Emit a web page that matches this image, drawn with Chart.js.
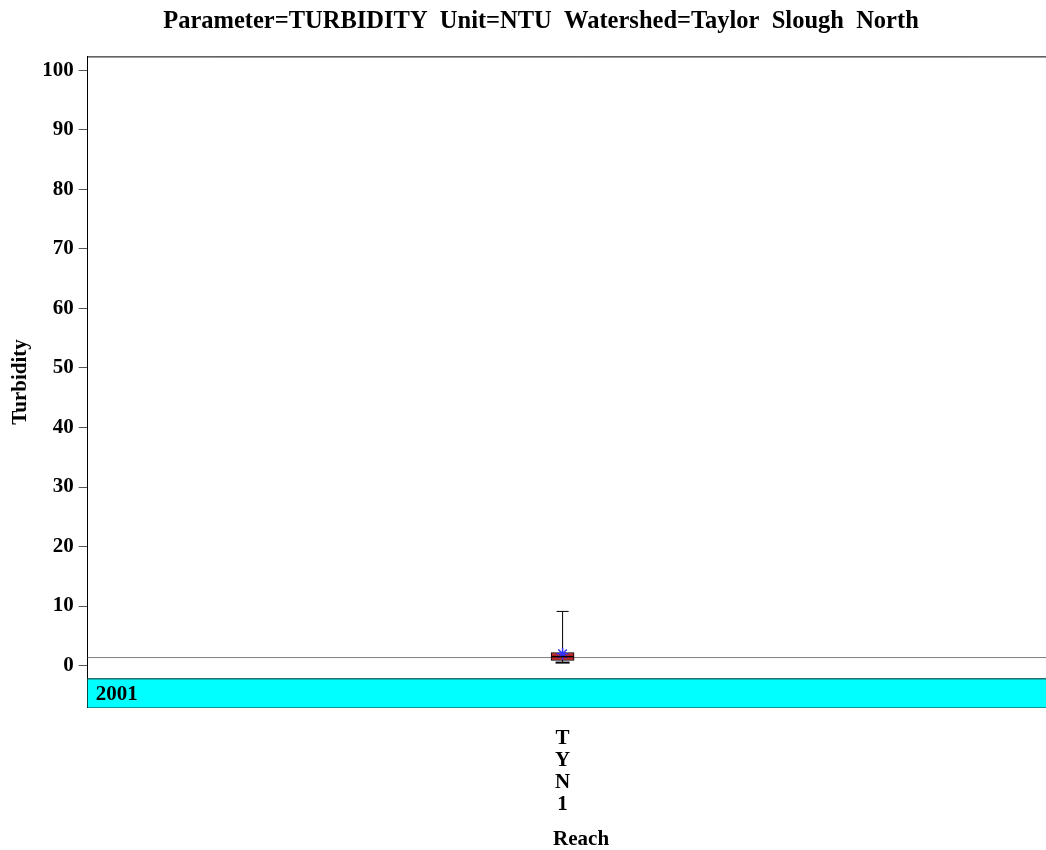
<!DOCTYPE html>
<html>
<head>
<meta charset="utf-8">
<script src="https://cdn.jsdelivr.net/npm/chart.js@4/dist/chart.umd.min.js"></script>
<style>
  html, body { margin: 0; padding: 0; background: #fff; overflow: hidden; }
  body { width: 1046px; height: 850px; }
  #wrap { width: 1082px; height: 850px; }
</style>
</head>
<body>
<div id="wrap"><canvas id="chart"></canvas></div>
<script>
// data
const reaches = ['TYN1'];
const whiskerLow = [0.5];
const q1 = [0.85];
const median = [1.5];
const q3 = [2.2];
const whiskerHigh = [9.1];
const means = [2.0];
const refLine = 1.35;
const yTicks = [0, 10, 20, 30, 40, 50, 60, 70, 80, 90, 100];
const yearBand = { label: '2001', top: -2.2 };

const FONT = "'Liberation Serif', 'DejaVu Serif', serif";

// whiskers, caps, median, year band and reference line, all placed by the scales
const boxExtras = {
    id: 'boxExtras',
    beforeDatasetsDraw(chart) {
        const {ctx, chartArea, scales: {x, y}} = chart;
        const yTop = y.getPixelForValue(yearBand.top);
        ctx.save();
        ctx.fillStyle = '#00ffff';
        ctx.fillRect(chartArea.left, yTop, chartArea.right - chartArea.left, chartArea.bottom - yTop);
        ctx.strokeStyle = '#207070';
        ctx.lineWidth = 1.5;
        ctx.beginPath();
        ctx.moveTo(chartArea.left, yTop);
        ctx.lineTo(chartArea.right, yTop);
        ctx.stroke();
        ctx.fillStyle = '#000';
        ctx.font = "bold 21px " + FONT;
        ctx.textBaseline = 'middle';
        ctx.fillText(yearBand.label, chartArea.left + 8, (yTop + chartArea.bottom) / 2 + 1);

        // reference line
        const yr = y.getPixelForValue(refLine);
        ctx.strokeStyle = '#808080';
        ctx.lineWidth = 1;
        ctx.beginPath();
        ctx.moveTo(chartArea.left, yr);
        ctx.lineTo(chartArea.right, yr);
        ctx.stroke();

        // whiskers
        ctx.strokeStyle = '#000';
        reaches.forEach((r, i) => {
            const cx = x.getPixelForValue(i);
            const yh = y.getPixelForValue(whiskerHigh[i]);
            const yl = y.getPixelForValue(whiskerLow[i]);
            ctx.beginPath();
            ctx.moveTo(cx, yh);
            ctx.lineTo(cx, yl);
            ctx.moveTo(cx - 6, yh);
            ctx.lineTo(cx + 6, yh);
            ctx.stroke();
            ctx.lineWidth = 2;
            ctx.beginPath();
            ctx.moveTo(cx - 7, yl);
            ctx.lineTo(cx + 7, yl);
            ctx.stroke();
            ctx.lineWidth = 1;
        });
        ctx.restore();
    },
    afterDatasetsDraw(chart) {
        const {ctx, scales: {x, y}} = chart;
        ctx.save();
        ctx.strokeStyle = '#000';
        ctx.lineWidth = 1.5;
        reaches.forEach((r, i) => {
            const cx = x.getPixelForValue(i);
            const ym = y.getPixelForValue(median[i]);
            ctx.beginPath();
            ctx.moveTo(cx - 11, ym);
            ctx.lineTo(cx + 11, ym);
            ctx.stroke();
        });
        ctx.restore();
    }
};

new Chart(document.getElementById('chart'), {
    type: 'bar',
    data: {
        datasets: [{
            type: 'line',
            data: means.map((m, i) => ({ x: i, y: m })),
            showLine: false,
            pointStyle: 'star',
            pointRadius: 6,
            borderColor: '#3030ff',
            borderWidth: 1.5,
            backgroundColor: '#3030ff',
            order: 0
        }, {
            data: reaches.map((r, i) => ({ x: i, y: [q1[i], q3[i]] })),
            backgroundColor: '#c0282d',
            borderColor: '#000',
            borderWidth: 1,
            borderSkipped: false,
            barThickness: 23,
            order: 1
        }]
    },
    options: {
        responsive: true,
        maintainAspectRatio: false,
        animation: false,
        layout: { padding: { left: 0, right: 0, top: 0, bottom: 0 } },
        plugins: {
            legend: { display: false },
            tooltip: { enabled: false },
            title: {
                display: true,
                text: 'Parameter=TURBIDITY  Unit=NTU  Watershed=Taylor  Slough  North',
                color: '#000',
                font: { family: FONT, size: 24.5, weight: 'bold' },
                padding: { top: 7, bottom: 20 }
            }
        },
        scales: {
            x: {
                type: 'linear',
                offset: false,
                min: -1,
                max: 1.078,
                afterBuildTicks: (scale) => { scale.ticks = reaches.map((r, i) => ({ value: i })); },
                border: { display: true, color: '#000', width: 1 },
                grid: { drawOnChartArea: false, drawTicks: true, tickLength: 8, color: '#000' },
                ticks: {
                    color: '#000',
                    font: { family: FONT, size: 21, weight: 'bold', lineHeight: 1.05 },
                    padding: 11.5,
                    maxRotation: 0,
                    callback: (v) => reaches[v] ? reaches[v].split('') : ''
                },
                title: {
                    display: true,
                    text: 'Reach',
                    color: '#000',
                    font: { family: FONT, size: 21, weight: 'bold' },
                    padding: { top: 0, bottom: -2 }
                }
            },
            y: {
                min: -7.06,
                max: 102.35,
                afterBuildTicks: (scale) => { scale.ticks = yTicks.map(v => ({ value: v })); },
                border: { display: true, color: '#000', width: 1 },
                grid: { drawOnChartArea: false, drawTicks: true, tickLength: 9, color: '#555' },
                ticks: {
                    color: '#000',
                    font: { family: FONT, size: 21, weight: 'bold' },
                    padding: 5
                },
                title: {
                    display: true,
                    text: 'Turbidity',
                    color: '#000',
                    font: { family: FONT, size: 21, weight: 'bold' },
                    padding: { top: 8, bottom: 4 }
                }
            }
        }
    },
    plugins: [boxExtras, {
        id: 'frame',
        afterDraw(chart) {
            const {ctx, chartArea} = chart;
            ctx.save();
            ctx.strokeStyle = '#000';
            ctx.lineWidth = 1;
            ctx.beginPath();
            ctx.moveTo(chartArea.left, chartArea.top + 0.5);
            ctx.lineTo(chartArea.right, chartArea.top + 0.5);
            ctx.stroke();
            ctx.restore();
        }
    }]
});
</script>
</body>
</html>
